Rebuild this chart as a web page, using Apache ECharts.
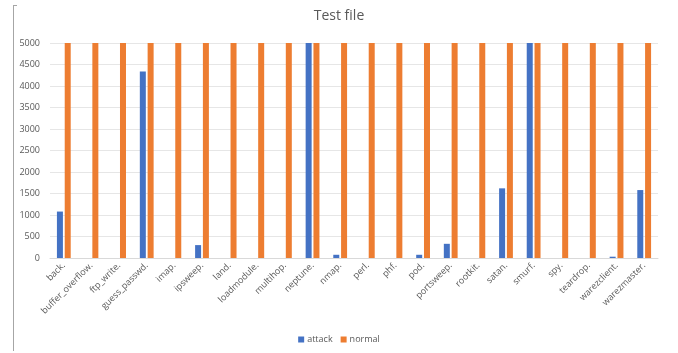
<!DOCTYPE html>
<html>
<head>
<meta charset="utf-8">
<script src="https://cdn.jsdelivr.net/npm/echarts@6/dist/echarts.min.js"></script>
<style>
  html, body {margin: 0; padding: 0; background: #fff;}
  #main {width: 678px; height: 353px;}
</style>
</head>
<body>
<div id="main"></div>
<script>
const categories = ['back.', 'buffer_overflow.', 'ftp_write.', 'guess_passwd.', 'imap.', 'ipsweep.', 'land.',
  'loadmodule.', 'multihop.', 'neptune.', 'nmap.', 'perl.', 'phf.', 'pod.', 'portsweep.', 'rootkit.',
  'satan.', 'smurf.', 'spy.', 'teardrop.', 'warezclient.', 'warezmaster.'];
const attack = [1080, 0, 0, 4340, 0, 300, 0, 0, 0, 5000, 75, 0, 0, 75, 330, 0, 1620, 5000, 0, 0, 30, 1580];
const normal = [5000, 5000, 5000, 5000, 5000, 5000, 5000, 5000, 5000, 5000, 5000, 5000, 5000, 5000, 5000,
  5000, 5000, 5000, 5000, 5000, 5000, 5000];
const yTicks = {min: 0, max: 5000, interval: 500};

const myChart = echarts.init(document.getElementById('main'));
const textColor = '#595959';
const font = '"Open Sans", "Liberation Sans", sans-serif';

myChart.setOption({
  animation: false,
  title: {
    text: 'Test file',
    left: 'center',
    top: 4,
    textStyle: {color: textColor, fontSize: 14, fontWeight: 'normal', fontFamily: font}
  },
  grid: {left: 50, right: 20, top: 43, bottom: 95, containLabel: false},
  legend: {
    bottom: 4,
    left: 'center',
    itemWidth: 6,
    itemHeight: 6,
    itemGap: 8,
    icon: 'rect',
    textStyle: {color: textColor, fontSize: 9, fontFamily: font, padding: [0, 0, 0, -2]},
    data: ['attack', 'normal']
  },
  xAxis: {
    type: 'category',
    data: categories,
    axisTick: {show: false},
    axisLine: {lineStyle: {color: '#d9d9d9'}},
    axisLabel: {color: textColor, fontSize: 9, fontFamily: font, rotate: 45, interval: 0, margin: 6}
  },
  yAxis: {
    type: 'value',
    min: yTicks.min,
    max: yTicks.max,
    interval: yTicks.interval,
    axisLine: {show: false},
    axisTick: {show: false},
    splitLine: {lineStyle: {color: '#e6e6e6'}},
    axisLabel: {color: textColor, fontSize: 9, fontFamily: font, margin: 10, formatter: v => String(v)}
  },
  series: [
    {name: 'attack', type: 'bar', data: attack, barWidth: 6, barGap: '30%', itemStyle: {color: '#4472C4'}},
    {name: 'normal', type: 'bar', data: normal, barWidth: 6, itemStyle: {color: '#ED7D31'}}
  ],
  graphic: [
    {type: 'line', shape: {x1: 13.5, y1: 5, x2: 13.5, y2: 351}, style: {stroke: '#a6a6a6', lineWidth: 1}},
    {type: 'line', shape: {x1: 13.5, y1: 5.5, x2: 17, y2: 5.5}, style: {stroke: '#a6a6a6', lineWidth: 1}}
  ]
});
</script>
</body>
</html>
